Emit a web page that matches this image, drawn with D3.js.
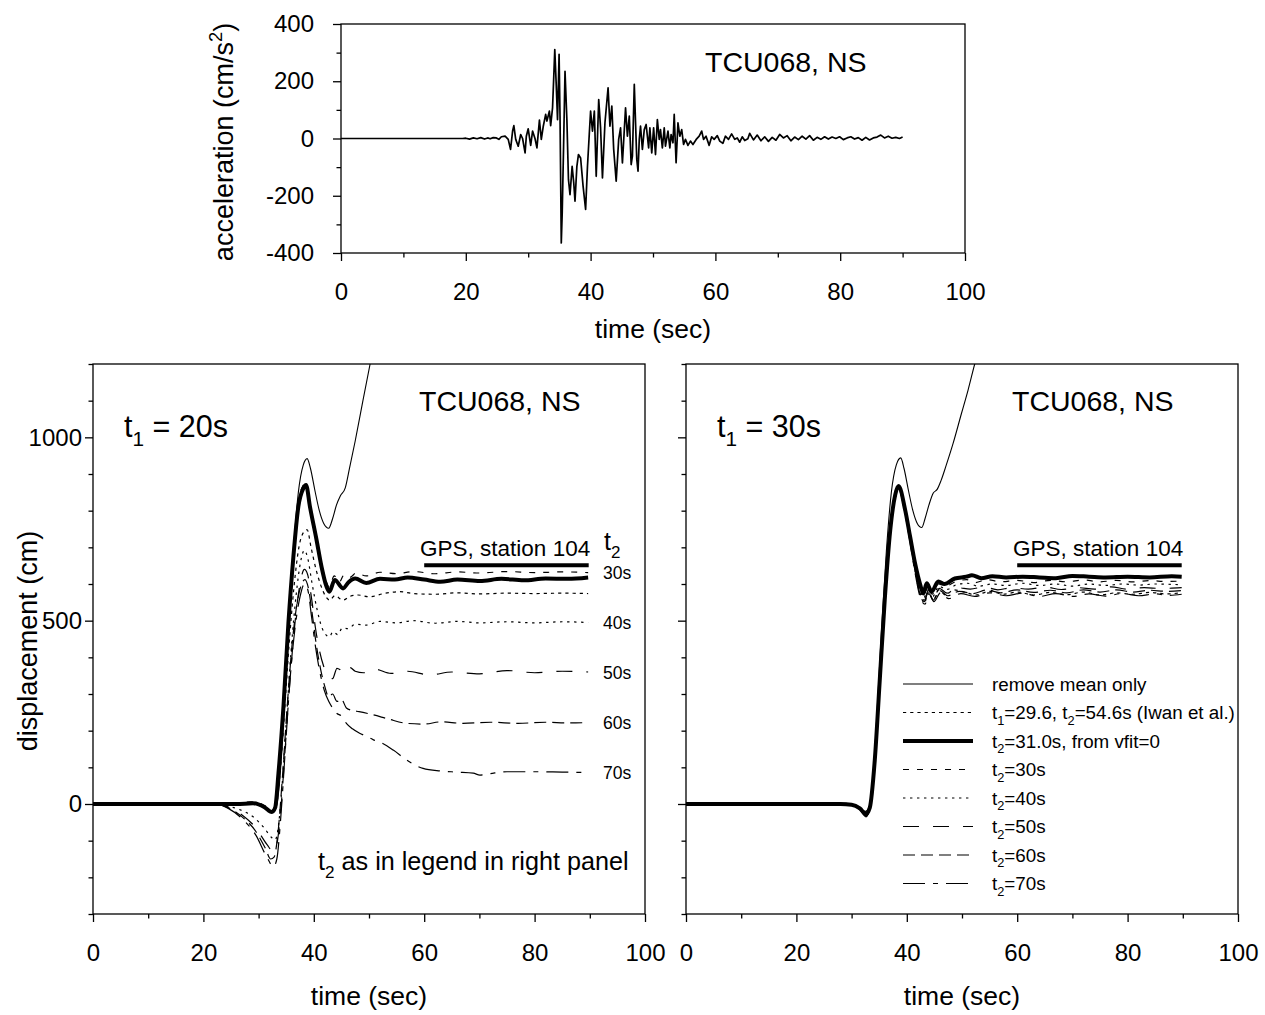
<!DOCTYPE html>
<html><head><meta charset="utf-8">
<script src="https://cdn.jsdelivr.net/npm/d3@7"></script>
<style>
html,body{margin:0;padding:0;background:#fff;}
svg text{font-family:"Liberation Sans",Arial,Helvetica,sans-serif;fill:#000;}
</style></head><body>
<svg id="chart" width="1265" height="1015"></svg>
<script>
// ---------------- DATA ----------------
const TIME_MAJOR = [0, 20, 40, 60, 80, 100];
const TIME_MINOR = [10, 30, 50, 70, 90];
const ACC_MAJOR = [-400, -200, 0, 200, 400];
const ACC_MINOR = [-300, -100, 100, 300];
const DISP_MAJOR = [0, 500, 1000];
const DISP_MINOR = [-300, -200, -100, 100, 200, 300, 400, 600, 700, 800, 900, 1100, 1200];

const STATION = "TCU068, NS";

// acceleration (cm/s^2) vs time (s)
const ACC = [
[0,0],[19.5,0],[20,1],[20.6,-2],[21.2,2],[21.8,-1],[22.4,3],[23,-2],[23.5,2],[23.9,-1],[24.4,3],[24.9,2],[25.3,-3],[25.7,6],[26.3,8],[26.8,-3],
[27.17,-38],[27.5,26],[27.7,45],[28.0,-3],[28.4,-27],[28.8,14],[29.1,0],[29.5,-50],[29.7,8],[30.0,34],[30.4,-24],[30.7,26],[31.1,-1],[31.4,-33],
[31.8,64],[32.1,-3],[32.4,41],[32.8,84],[33.0,61],[33.4,96],[33.6,45],[33.9,107],[34.1,218],[34.26,311],[34.5,183],[34.7,66],[34.95,294],[35.1,78],
[35.3,-365],[35.45,-260],[35.66,-38],[35.9,235],[36.2,66],[36.45,-143],[36.7,-196],[37.04,-97],[37.3,-155],[37.5,-219],[37.8,-97],[38.05,-56],
[38.4,-68],[38.8,-167],[39.2,-248],[39.5,-97],[39.8,20],[40.0,96],[40.3,26],[40.6,96],[40.9,-132],[41.3,136],[41.6,37],[41.9,-138],[42.3,55],
[42.8,177],[43.1,43],[43.4,113],[43.7,-38],[44.1,-149],[44.5,-3],[44.8,37],[45.1,-85],[45.6,107],[45.9,8],[46.2,78],[46.5,-91],[46.7,-62],
[47.0,189],[47.4,-73],[47.6,-114],[47.8,-3],[48.0,43],[48.3,-38],[48.6,31],[48.9,49],[49.3,-33],[49.5,37],[49.8,-50],[50.1,37],[50.4,-56],
[50.7,66],[51.0,-3],[51.2,31],[51.5,-33],[51.8,37],[52.0,-27],[52.4,26],[52.7,-33],[52.9,14],[53.2,-15],[53.4,84],[53.7,-85],[54.0,55],
[54.3,8],[54.6,31],[54.9,-21],[55.2,-3],[55.6,-24],[56.0,-9],[56.4,-21],[57.0,-1],[57.4,8],[57.8,26],[58.1,-3],[58.5,8],[59.0,-24],[59.4,6],
[59.8,-3],[60.3,10],[60.7,-9],[61.2,-17],[61.6,8],[62.1,-3],[62.6,16],[63.1,-3],[63.5,2],[63.9,-13],[64.3,6],[64.7,-7],[65.2,-1],[65.5,18],
[66.1,-5],[66.7,12],[67.3,-8],[67.9,6],[68.5,-10],[69.1,4],[69.7,-6],[70.3,14],[70.9,2],[71.5,10],[72.1,-8],[72.7,5],[73.3,-4],[73.9,8],
[74.5,-2],[75.1,10],[75.7,-6],[76.3,4],[76.9,-3],[77.5,6],[78.1,-2],[78.7,5],[79.3,0],[79.9,6],[80.5,-4],[81.1,2],[81.7,6],[82.3,-2],[82.9,3],
[83.5,-6],[84.1,4],[84.7,-5],[85.3,2],[85.9,5],[86.5,12],[87.1,2],[87.7,8],[88.3,1],[88.9,4],[89.5,0],[90,5]
];

// displacement (cm) vs time (s)
// left panel, t1 = 20 s
const L_MEAN = [[0,0],[26,0],[29,2],[31,-6],[32.5,-20],[33.2,-8],[33.8,60],[34.5,220],[35.4,470],[36.3,690],[37.2,850],[38.1,925],[38.8,942],[39.4,915],[40.2,855],[41,800],[41.8,765],[42.7,752],[43.4,778],[44.1,815],[44.8,840],[45.7,862],[46.5,918],[47.5,990],[48.9,1100],[50.2,1200],[51,1260]];
const L_IWAN = [[0,0],[26,0],[29,2],[30.5,-5],[32.4,-22],[33.2,-5],[33.8,70],[34.6,230],[35.5,430],[36.4,590],[37.3,700],[38.2,742],[38.8,748],[39.5,700],[40.4,640],[41.3,595],[42.2,565],[42.9,556],[43.8,568],[45.3,556],[46.5,566],[48,570],[50,565],[53,575],[55.6,579],[58,574],[62,572],[66,576],[70,573],[75,575],[80,574],[85,575],[89.7,574]];
const L_VFIT = [[0,0],[26,0],[29,2],[31,-8],[32.4,-22],[33,-10],[33.6,84],[34.5,265],[35.4,493],[36.3,674],[37.2,811],[38.1,861],[38.6,870],[39.3,811],[40.5,720],[41.4,647],[42.3,593],[42.8,579],[43.8,611],[45.3,588],[46.3,605],[47.5,615],[49.5,603],[52,614],[54.7,612],[57,618],[60,612],[62.9,606],[66,612],[70.1,608],[74,614],[78,610],[82,615],[86,614],[89.7,618]];
const L_T30 = [[0,0],[26,0],[28.4,6],[30,3],[31.5,-8],[32.4,-18],[33.1,0],[33.7,100],[34.5,270],[35.4,500],[36.3,690],[37.2,825],[38.1,870],[38.6,878],[39.3,815],[40.5,725],[41.4,655],[42.3,605],[42.8,592],[43.7,622],[44.6,605],[45.5,625],[46.5,618],[47.7,630],[49.5,622],[52,632],[55,628],[58,634],[62,628],[66,633],[70,630],[75,634],[80,631],[85,633],[89.7,631]];
const L_T40 = [[0,0],[22,0],[24,-5],[26.5,-15],[29,-35],[31,-65],[32.4,-92],[33,-98],[33.5,-70],[34.1,20],[35,220],[35.9,420],[36.8,570],[37.6,660],[38.3,692],[38.9,670],[39.7,600],[40.6,530],[41.5,480],[42.3,460],[42.8,456],[43.5,470],[44.3,462],[45.2,480],[46.2,478],[47.5,490],[49.5,488],[52,498],[55,494],[58,500],[62,493],[66,498],[70,494],[75,497],[80,494],[85,497],[89.7,495]];
const L_T50 = [[0,0],[22,0],[24.5,-8],[27,-30],[29.5,-65],[31.5,-110],[32.7,-130],[33.3,-110],[34,-20],[34.9,170],[35.8,360],[36.7,510],[37.5,600],[38.3,640],[38.9,625],[39.6,560],[40.3,480],[41,420],[41.8,375],[42.7,350],[43.4,342],[44.2,370],[45,364],[45.8,356],[46.6,372],[47.5,362],[49,358],[51,368],[54,356],[57,362],[61,352],[65,360],[70,355],[75,364],[80,358],[85,362],[89.7,360]];
const L_T60 = [[0,0],[22,0],[24.5,-10],[27,-35],[29.5,-75],[31.2,-120],[32.2,-150],[32.8,-145],[33.5,-80],[34.3,70],[35.2,270],[36.1,440],[37,550],[37.8,600],[38.4,612],[39,590],[39.7,520],[40.4,440],[41.2,370],[42,320],[42.7,292],[43.4,300],[44.2,280],[45,286],[45.9,262],[47,255],[48.2,252],[50.8,243],[53.5,232],[56.8,220],[60,218],[63,224],[67,220],[72,223],[77,220],[82,223],[86,221],[89.7,222]];
const L_T70 = [[0,0],[22,0],[24.5,-12],[27,-40],[29.5,-85],[31.5,-145],[32.7,-171],[33.3,-150],[34,-40],[34.8,140],[35.7,340],[36.6,480],[37.5,565],[38.3,600],[38.9,585],[39.6,510],[40.3,430],[41.1,360],[41.9,310],[42.7,280],[43.4,262],[44.2,247],[45,240],[45.9,220],[47,205],[48.3,193],[49.5,185],[50.8,175],[52.5,165],[54.4,147],[56.8,120],[58.5,105],[59.8,97],[62.9,90],[66,87],[68.9,84],[70.1,79],[72,83],[75,88],[80,88],[85,87],[89.7,86]];

// right panel, t1 = 30 s
const R_MEAN = [[0,0],[26,0],[29,2],[31,-6],[32.5,-20],[33.2,-8],[33.8,60],[34.5,220],[35.4,470],[36.3,690],[37.2,850],[38.1,925],[38.9,944],[39.5,915],[40.3,855],[41.1,800],[41.9,765],[42.7,754],[43.3,778],[44.0,815],[44.8,848],[45.5,858],[46.2,882],[47.1,922],[48.4,984],[49.9,1065],[51.1,1129],[52.3,1200],[53.5,1265]];
const R_IWAN = [[0,0],[28,0],[30,-2],[31.5,-14],[32.6,-30],[33.3,-12],[34.2,115],[35.1,332],[36,548],[37,738],[37.9,836],[38.5,860],[39.7,795],[40.6,720],[41.5,640],[42.4,575],[43.2,548],[43.9,578],[44.8,556],[45.8,584],[47,570],[48.5,584],[50.5,578],[52.5,570],[55,580],[57.5,572],[60,578],[63,570],[66,577],[69,571],[72,578],[75,570],[78,576],[81,572],[84,577],[87,573],[89.8,576]];
const R_VFIT = [[0,0],[28,0],[30,-2],[31.5,-12],[32.6,-27],[33.3,-10],[34.2,120],[35.1,338],[36,556],[37,747],[37.9,843],[38.5,867],[39.7,802],[40.6,729],[41.5,656],[42.4,600],[43.0,574],[43.6,602],[44.5,579],[45.7,607],[46.8,600],[48.7,615],[50.8,620],[51.8,624],[53.5,616],[55.5,621],[58,618],[61,620],[64,618],[67,616],[70,622],[73,620],[76,618],[80,620],[84,618],[88,621],[89.8,620]];
const R_T30 = [[0,0],[28,0],[30,-1],[31.5,-11],[32.6,-25],[33.3,-9],[34.2,122],[35.1,340],[36,557],[37,746],[37.9,842],[38.5,866],[39.7,800],[40.6,726],[41.5,652],[42.4,596],[43.1,566],[43.7,596],[44.6,572],[45.7,600],[47,594],[48.8,606],[50.8,612],[52.5,604],[54.5,612],[57,606],[60,610],[63,604],[66,610],[69,606],[72,611],[75,606],[78,610],[81,606],[84,609],[87,607],[89.8,608]];
const R_T40 = [[0,0],[28,0],[30,-2],[31.5,-13],[32.6,-29],[33.3,-11],[34.2,118],[35.1,335],[36,552],[37,744],[37.9,840],[38.5,865],[39.7,798],[40.6,722],[41.5,645],[42.4,585],[43.1,562],[43.8,590],[44.7,566],[45.8,594],[47.2,585],[49,598],[51,602],[53,594],[55.5,600],[58,596],[61,602],[64,596],[67,600],[70,594],[73,600],[76,596],[79,600],[82,597],[85,600],[89.8,598]];
const R_T50 = [[0,0],[28,0],[30,-2],[31.5,-14],[32.6,-31],[33.3,-12],[34.2,116],[35.1,333],[36,550],[37,742],[37.9,838],[38.5,863],[39.7,796],[40.6,720],[41.5,640],[42.4,578],[43.2,556],[43.9,584],[44.8,560],[45.9,588],[47.3,575],[49.2,590],[51.5,586],[54,592],[56.5,584],[59,590],[62,586],[65,592],[68,585],[71,590],[74,586],[77,592],[80,586],[83,590],[86,588],[89.8,590]];
const R_T60 = [[0,0],[28,0],[30,-3],[31.5,-15],[32.6,-33],[33.3,-13],[34.2,114],[35.1,331],[36,548],[37,740],[37.9,836],[38.5,861],[39.7,794],[40.6,717],[41.5,636],[42.4,572],[43.2,552],[43.9,580],[44.8,556],[46,582],[47.4,568],[49.5,580],[52,574],[54.5,584],[57,576],[60,584],[63,577],[66,583],[69,576],[72,584],[75,578],[78,584],[81,578],[84,583],[87,580],[89.8,582]];
const R_T70 = [[0,0],[28,0],[30,-3],[31.5,-16],[32.6,-35],[33.3,-14],[34.2,112],[35.1,329],[36,546],[37,738],[37.9,834],[38.5,859],[39.7,790],[40.6,712],[41.5,630],[42.4,565],[43.3,545],[44,574],[44.9,552],[46.1,576],[47.6,560],[49.8,574],[52.3,566],[55,576],[58,568],[61,575],[64,566],[67,574],[70,566],[73,573],[76,567],[79,574],[82,568],[85,573],[87.5,569],[89.8,572]];

// GPS static offset (cm), station 104, drawn from 60 to 90 s
const GPS_VALUE = 651;
const GPS_SPAN = [60, 89.8];

const T2_LABELS = ["30s", "40s", "50s", "60s", "70s"];
const LEGEND_LABELS = [
  ["remove mean only"],
  ["t", {sub: "1"}, "=29.6, t", {sub: "2"}, "=54.6s (Iwan et al.)"],
  ["t", {sub: "2"}, "=31.0s, from vfit=0"],
  ["t", {sub: "2"}, "=30s"],
  ["t", {sub: "2"}, "=40s"],
  ["t", {sub: "2"}, "=50s"],
  ["t", {sub: "2"}, "=60s"],
  ["t", {sub: "2"}, "=70s"]
];

// ---------------- STYLES ----------------
const STY = {
  mean: {w: 1.1, dash: null},
  iwan: {w: 1.2, dash: "3.2,4"},
  vfit: {w: 4, dash: null},
  t30:  {w: 1.2, dash: "6,8"},
  t40:  {w: 1.2, dash: "2.4,4.6"},
  t50:  {w: 1.2, dash: "16,14"},
  t60:  {w: 1.2, dash: "12,6"},
  t70:  {w: 1.2, dash: "22,8,5,8"}
};
const LEGEND_STYLES = [STY.mean, STY.iwan, STY.vfit, STY.t30, STY.t40, STY.t50, STY.t60, STY.t70];

// ---------------- DRAW ----------------
const svg = d3.select("#chart");
const FS_TICK = 24, FS_XTITLE = 26.5, FS_YTITLE = 27;

function rich(g, x, y, parts, fs, anchor) {
  const t = g.append("text").attr("x", x).attr("y", y).attr("font-size", fs)
    .attr("text-anchor", anchor || "start");
  let shift = 0;
  parts.forEach(p => {
    if (typeof p === "string") {
      const s = t.append("tspan").text(p);
      if (shift) { s.attr("dy", -shift); shift = 0; }
    } else if (p.sub) {
      const d = fs * 0.3;
      t.append("tspan").attr("font-size", fs * 0.68).attr("dy", d - shift).text(p.sub);
      shift = d;
    } else if (p.sup) {
      const d = -fs * 0.42;
      t.append("tspan").attr("font-size", fs * 0.68).attr("dy", d - shift).text(p.sup);
      shift = d;
    }
  });
  return t;
}

const fmt = d => String(d);

function frame(g, x, y, cfg) {
  const [xa, xb] = x.range(), [ya, yb] = y.range();
  const xg = g.append("g").attr("transform", `translate(0,${ya})`);
  xg.call(d3.axisBottom(x).tickValues(cfg.xMajor).tickSize(8).tickPadding(22).tickFormat(fmt));
  xg.append("g").call(d3.axisBottom(x).tickValues(cfg.xMinor).tickSize(4.5).tickFormat(""));
  const yg = g.append("g").attr("transform", `translate(${xa},0)`);
  yg.call(d3.axisLeft(y).tickValues(cfg.yMajor).tickSize(8).tickPadding(cfg.yPad)
    .tickFormat(cfg.yLabels ? fmt : ""));
  yg.append("g").call(d3.axisLeft(y).tickValues(cfg.yMinor).tickSize(4.5).tickFormat(""));
  g.selectAll(".domain").remove();
  g.selectAll(".tick line").attr("stroke", "#000").attr("stroke-width", 1.3);
  g.selectAll(".tick text").attr("font-size", FS_TICK).attr("fill", "#000")
    .attr("font-family", '"Liberation Sans", Arial, sans-serif');
  g.append("rect").attr("x", xa).attr("y", yb).attr("width", xb - xa).attr("height", ya - yb)
    .attr("fill", "none").attr("stroke", "#000").attr("stroke-width", 1.3);
}

// ---- Top panel: acceleration ----
{
  const x = d3.scaleLinear().domain([0, 100]).range([341, 965]);
  const y = d3.scaleLinear().domain([-400, 400]).range([253, 24]);
  const g = svg.append("g");
  g.append("path").datum(ACC)
    .attr("d", d3.line().x(d => x(d[0])).y(d => y(d[1])))
    .attr("fill", "none").attr("stroke", "#000").attr("stroke-width", 1.7).attr("stroke-linejoin", "round");
  frame(g, x, y, {xMajor: TIME_MAJOR, xMinor: TIME_MINOR, yMajor: ACC_MAJOR, yMinor: ACC_MINOR, yLabels: true, yPad: 19});
  g.append("text").attr("x", 705).attr("y", 72).attr("font-size", 28.5).text(STATION);
  g.append("text").attr("x", 653).attr("y", 338).attr("font-size", FS_XTITLE).attr("text-anchor", "middle").text("time (sec)");
  rich(g.append("g").attr("transform", "translate(233,142) rotate(-90)"), 0, 0,
    ["acceleration (cm/s", {sup: "2"}, ")"], FS_YTITLE, "middle");
}

// ---- Displacement panels ----
function dispPanel(x0, x1, id, series, opts) {
  const x = d3.scaleLinear().domain([0, 100]).range([x0, x1]);
  const y = d3.scaleLinear().domain([-300, 1200]).range([914, 364]);
  const g = svg.append("g");
  g.append("clipPath").attr("id", id).append("rect")
    .attr("x", x0).attr("y", 364).attr("width", x1 - x0).attr("height", 550);
  const line = d3.line().x(d => x(d[0])).y(d => y(d[1])).curve(d3.curveMonotoneX);
  const pg = g.append("g").attr("clip-path", `url(#${id})`);
  series.forEach(s => {
    const p = pg.append("path").datum(s.data).attr("d", line)
      .attr("fill", "none").attr("stroke", "#000").attr("stroke-width", s.sty.w)
      .attr("stroke-linejoin", "round");
    if (s.sty.dash) p.attr("stroke-dasharray", s.sty.dash);
  });
  g.append("line").attr("x1", x(GPS_SPAN[0])).attr("x2", x(GPS_SPAN[1]))
    .attr("y1", y(GPS_VALUE)).attr("y2", y(GPS_VALUE)).attr("stroke", "#000").attr("stroke-width", 4);
  g.append("text").attr("x", x(GPS_SPAN[1]) + 1.5).attr("y", y(GPS_VALUE) - 9).attr("font-size", 22.5)
    .attr("text-anchor", "end").text("GPS, station 104");
  frame(g, x, y, {xMajor: TIME_MAJOR, xMinor: TIME_MINOR, yMajor: DISP_MAJOR, yMinor: DISP_MINOR,
    yLabels: opts.yLabels, yPad: 3});
  g.append("text").attr("x", x0 + 326).attr("y", 411).attr("font-size", 28.5).text(STATION);
  rich(g, x0 + 31, 437, ["t", {sub: "1"}, " = " + opts.t1], 30.5, "start");
  g.append("text").attr("x", (x0 + x1) / 2).attr("y", 1005).attr("font-size", FS_XTITLE)
    .attr("text-anchor", "middle").text("time (sec)");
  return {g, x, y};
}

// Left
{
  const P = dispPanel(93, 645, "clipL", [
    {data: L_MEAN, sty: STY.mean},
    {data: L_IWAN, sty: STY.iwan},
    {data: L_T40, sty: STY.t40},
    {data: L_T50, sty: STY.t50},
    {data: L_T60, sty: STY.t60},
    {data: L_T70, sty: STY.t70},
    {data: L_T30, sty: STY.t30},
    {data: L_VFIT, sty: STY.vfit}
  ], {yLabels: true, t1: "20s"});
  const ends = [L_T30, L_T40, L_T50, L_T60, L_T70];
  T2_LABELS.forEach((lab, i) => {
    const last = ends[i][ends[i].length - 1][1];
    P.g.append("text").attr("x", 603).attr("y", P.y(last) + 6.5).attr("font-size", 17.5).text(lab);
  });
  rich(P.g, 604, 550, ["t", {sub: "2"}], 25, "start");
  rich(P.g, 318, 870, ["t", {sub: "2"}, " as in legend in right panel"], 25.2, "start");
  P.g.append("text").attr("x", 37).attr("y", 641).attr("font-size", FS_YTITLE)
    .attr("text-anchor", "middle").attr("transform", "rotate(-90,37,641)").text("displacement (cm)");
}

// Right
{
  const P = dispPanel(686, 1238, "clipR", [
    {data: R_MEAN, sty: STY.mean},
    {data: R_T70, sty: STY.t70},
    {data: R_T60, sty: STY.t60},
    {data: R_T50, sty: STY.t50},
    {data: R_IWAN, sty: STY.iwan},
    {data: R_T40, sty: STY.t40},
    {data: R_T30, sty: STY.t30},
    {data: R_VFIT, sty: STY.vfit}
  ], {yLabels: false, t1: "30s"});
  const lg = P.g.append("g");
  LEGEND_LABELS.forEach((lab, i) => {
    const yy = 684 + i * 28.5;
    const s = LEGEND_STYLES[i];
    const l = lg.append("line").attr("x1", 903).attr("x2", 973).attr("y1", yy).attr("y2", yy)
      .attr("stroke", "#000").attr("stroke-width", s.w);
    if (s.dash) l.attr("stroke-dasharray", s.dash);
    rich(lg, 992, yy + 6.5, lab, 18.8, "start");
  });
}
</script>
</body></html>
